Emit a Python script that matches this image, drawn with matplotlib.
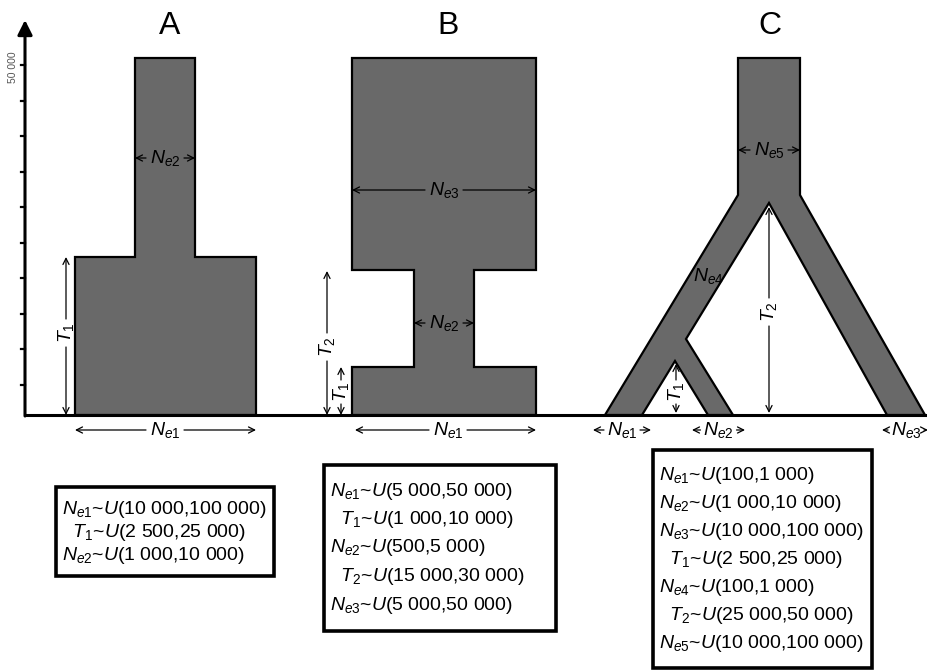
import matplotlib
matplotlib.use("Agg")
import numpy as np
import matplotlib.pyplot as plt
from matplotlib.patches import Polygon, Rectangle

plt.rcParams['font.family'] = ['Liberation Sans', 'DejaVu Sans']
plt.rcParams['mathtext.fontset'] = 'custom'
plt.rcParams['mathtext.rm'] = 'Liberation Sans'
plt.rcParams['mathtext.it'] = 'Liberation Sans:italic'

# prior ranges for each demographic model
params_A = ['N_{e1}', 'T_1', 'N_{e2}']
low_A = ['10 000', '2 500', '1 000']
high_A = ['100 000', '25 000', '10 000']

params_B = ['N_{e1}', 'T_1', 'N_{e2}', 'T_2', 'N_{e3}']
low_B = ['5 000', '1 000', '500', '15 000', '5 000']
high_B = ['50 000', '10 000', '5 000', '30 000', '50 000']

params_C = ['N_{e1}', 'N_{e2}', 'N_{e3}', 'T_1', 'N_{e4}', 'T_2', 'N_{e5}']
low_C = ['100', '1 000', '10 000', '2 500', '100', '25 000', '10 000']
high_C = ['1 000', '10 000', '100 000', '25 000', '1 000', '50 000', '100 000']

model_names = ['A', 'B', 'C']
time_ticks = [5000 * k for k in range(1, 11)]

FILL = '#696969'
BASE = 415
TOP = 58
FS = 14

fig = plt.figure(figsize=(9.28, 6.72), dpi=100)
ax = fig.add_axes([0, 0, 1, 1])
ax.set_xlim(0, 928)
ax.set_ylim(672, 0)
ax.axis('off')


def t2y(t):
    # time (years) -> vertical pixel position
    return 420 - t / 5000 * 35.5


def shape(pts):
    ax.add_patch(Polygon(pts, closed=True, fc=FILL, ec='black', lw=1.6, joinstyle='miter'))


def dim(x0, y0, x1, y1, label, gap=19, rot=0, lx=None, ly=None, fs=FS):
    # two-headed dimension arrow, broken in the middle for its label
    lx = (x0 + x1) / 2 if lx is None else lx
    ly = (y0 + y1) / 2 if ly is None else ly
    u = np.array([x1 - x0, y1 - y0], dtype=float)
    u /= np.hypot(*u)
    m = np.array([lx, ly])
    for end, sgn in (((x0, y0), -1), ((x1, y1), 1)):
        ax.annotate('', xy=end, xytext=tuple(m + sgn * gap * u),
                    arrowprops=dict(arrowstyle='->', lw=0.9, color='black',
                                    shrinkA=0, shrinkB=0, mutation_scale=11))
    ax.text(lx, ly, label, ha='center', va='center', fontsize=fs, rotation=rot)


def prior_box(x0, y0, x1, y1, params, lows, highs, ytext, step):
    ax.add_patch(Rectangle((x0, y0), x1 - x0, y1 - y0, fc='white', ec='black', lw=2.6))
    for i, (p, lo, hi) in enumerate(zip(params, lows, highs)):
        pad = '  ' if p.startswith('T') else ''
        ax.text(x0 + 6, ytext + i * step, pad + f'${p}$~$U$({lo},{hi})',
                ha='left', va='center', fontsize=FS)


# time axis
ax.annotate('', xy=(25, 20), xytext=(25, BASE + 1),
            arrowprops=dict(arrowstyle='-|>', lw=2.2, color='black',
                            mutation_scale=22, shrinkA=0, shrinkB=0))
for t in time_ticks:
    ax.plot([21, 25], [t2y(t), t2y(t)], color='black', lw=1.6)
ax.text(13, t2y(time_ticks[-1]) + 2, '50 000', rotation=90, fontsize=7.5,
        color='#555555', ha='center', va='center')
ax.plot([25, 928], [BASE, BASE], color='black', lw=2.2, solid_capstyle='butt')

# model titles
for name, x in zip(model_names, [170, 448, 770]):
    ax.text(x, 26, name, ha='center', va='center', fontsize=23)

# model A
shape([(135, TOP), (195, TOP), (195, 257), (256, 257), (256, BASE),
       (75, BASE), (75, 257), (135, 257)])
dim(135, 158, 195, 158, '$N_{e2}$')
dim(66, 257, 66, BASE, '$T_1$', rot=90, ly=333, gap=14)
dim(75, 430, 256, 430, '$N_{e1}$', lx=165)

# model B
shape([(352, TOP), (536, TOP), (536, 270), (474, 270), (474, 367),
       (536, 367), (536, BASE), (352, BASE), (352, 367), (414, 367),
       (414, 270), (352, 270)])
dim(352, 190, 536, 190, '$N_{e3}$')
dim(414, 323, 474, 323, '$N_{e2}$')
dim(327, 271, 327, BASE, '$T_2$', rot=90, ly=347, gap=14)
dim(341, 367, 341, BASE, '$T_1$', rot=90, ly=392, gap=12)
dim(355, 430, 536, 430, '$N_{e1}$', lx=448)

# model C
shape([(738, TOP), (800, TOP), (800, 195), (925, BASE), (887, BASE),
       (769, 203), (686, 339), (733, BASE), (708, BASE), (675, 361),
       (642, BASE), (605, BASE), (738, 195)])
dim(738, 150, 800, 150, '$N_{e5}$')
ax.text(708, 276, '$N_{e4}$', ha='center', va='center', fontsize=FS)
dim(769, 207, 769, BASE - 2, '$T_2$', rot=90, ly=312, gap=14)
dim(676, 364, 676, BASE - 2, '$T_1$', rot=90, ly=392, gap=12)
dim(593, 430, 651, 430, '$N_{e1}$', gap=18)
dim(692, 430, 745, 430, '$N_{e2}$', gap=18)
dim(882, 430, 928, 430, '$N_{e3}$', lx=906, gap=18)

# prior distributions
prior_box(56, 487, 274, 576, params_A, low_A, high_A, 509, 23.5)
prior_box(324, 465, 556, 631, params_B, low_B, high_B, 491, 28.5)
prior_box(653, 450, 872, 668, params_C, low_C, high_C, 476, 28)

fig.savefig('out.png', dpi=100, facecolor='white')
